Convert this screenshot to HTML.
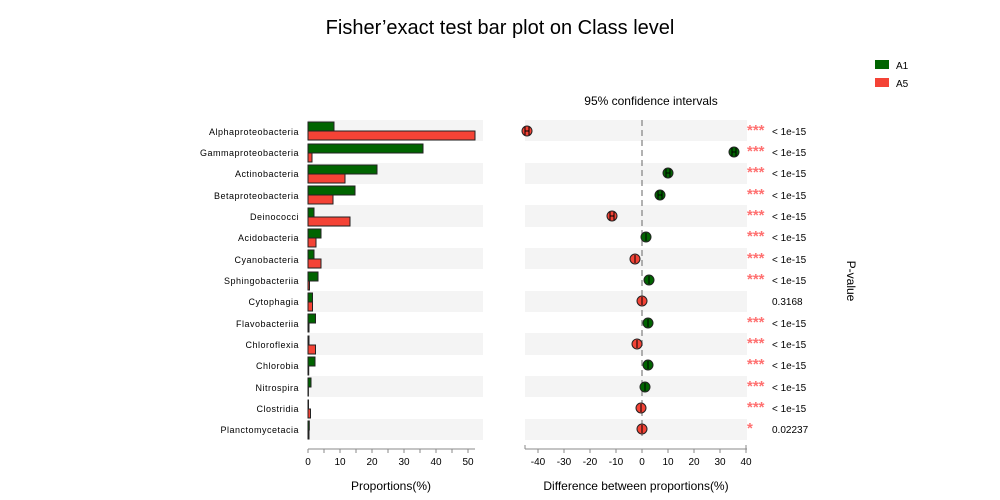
<!DOCTYPE html>
<html><head><meta charset="utf-8"><style>body{margin:0;background:#fff}svg{display:block;font-family:"Liberation Sans",sans-serif}</style></head><body>
<svg width="1000" height="500" viewBox="0 0 1000 500">
<text x="500" y="34" font-size="20" text-anchor="middle">Fisher’exact test bar plot on Class level</text>
<rect x="875" y="60" width="14" height="9" fill="#006400"/><text x="896" y="69" font-size="10">A1</text>
<rect x="875" y="78" width="14" height="9" fill="#f44336"/><text x="896" y="87" font-size="10">A5</text>
<text x="651" y="105" font-size="12" text-anchor="middle">95% confidence intervals</text>
<g fill="#f4f4f4">
<rect x="308" y="120" width="175" height="21"/><rect x="308" y="163" width="175" height="21"/><rect x="308" y="205" width="175" height="22"/><rect x="308" y="248" width="175" height="21"/><rect x="308" y="291" width="175" height="21"/><rect x="308" y="333" width="175" height="22"/><rect x="308" y="376" width="175" height="21"/><rect x="308" y="419" width="175" height="21"/>
<rect x="525" y="120" width="222" height="21"/><rect x="525" y="163" width="222" height="21"/><rect x="525" y="205" width="222" height="22"/><rect x="525" y="248" width="222" height="21"/><rect x="525" y="291" width="222" height="21"/><rect x="525" y="333" width="222" height="22"/><rect x="525" y="376" width="222" height="21"/><rect x="525" y="419" width="222" height="21"/>
</g>
<g font-size="9" text-anchor="end" letter-spacing="0.5">
<text x="299" y="135">Alphaproteobacteria</text><text x="299" y="156">Gammaproteobacteria</text><text x="299" y="177">Actinobacteria</text><text x="299" y="199">Betaproteobacteria</text><text x="299" y="220">Deinococci</text><text x="299" y="241">Acidobacteria</text><text x="299" y="263">Cyanobacteria</text><text x="299" y="284">Sphingobacteriia</text><text x="299" y="305">Cytophagia</text><text x="299" y="327">Flavobacteriia</text><text x="299" y="348">Chloroflexia</text><text x="299" y="369">Chlorobia</text><text x="299" y="391">Nitrospira</text><text x="299" y="412">Clostridia</text><text x="299" y="433">Planctomycetacia</text>
</g>
<g stroke="#222" stroke-width="1">
<g fill="#006400">
<rect x="308" y="122" width="26" height="9"/><rect x="308" y="144" width="115" height="9"/><rect x="308" y="165" width="69" height="9"/><rect x="308" y="186" width="47" height="9"/><rect x="308" y="208" width="6" height="9"/><rect x="308" y="229" width="13" height="9"/><rect x="308" y="250" width="6" height="9"/><rect x="308" y="272" width="10" height="9"/><rect x="308" y="293" width="4.5" height="9"/><rect x="308" y="314" width="7.5" height="9"/><rect x="308" y="336" width="1" height="9"/><rect x="308" y="357" width="7" height="9"/><rect x="308" y="378" width="3" height="9"/><rect x="308" y="400" width="0.5" height="9"/><rect x="308" y="421" width="1.3" height="9"/>
</g>
<g fill="#f44336">
<rect x="308" y="131" width="167" height="9"/><rect x="308" y="153" width="4" height="9"/><rect x="308" y="174" width="37" height="9"/><rect x="308" y="195" width="25" height="9"/><rect x="308" y="217" width="42" height="9"/><rect x="308" y="238" width="8" height="9"/><rect x="308" y="259" width="13" height="9"/><rect x="308" y="281" width="1.5" height="9"/><rect x="308" y="302" width="4.5" height="9"/><rect x="308" y="323" width="1" height="9"/><rect x="308" y="345" width="7.5" height="9"/><rect x="308" y="366" width="0.7" height="9"/><rect x="308" y="387" width="0.4" height="9"/><rect x="308" y="409" width="2.5" height="9"/><rect x="308" y="430" width="1" height="9"/>
</g>
</g>
<g stroke="#888" fill="none">
<path d="M308 449H475M308 449v4M324 449v4M340 449v4M356 449v4M372 449v4M388 449v4M404 449v4M420 449v4M436 449v4M452 449v4M468 449v4"/>
<path d="M525 449H747M538 449v4M564 449v4M590 449v4M616 449v4M642 449v4M668 449v4M694 449v4M720 449v4M746 449v4M525 445v4M746 445v4"/>
<path d="M642 120V440" stroke-dasharray="6,4" stroke="#888" stroke-width="1.3"/>
</g>
<g font-size="10" text-anchor="middle">
<text x="308" y="465">0</text><text x="340" y="465">10</text><text x="372" y="465">20</text><text x="404" y="465">30</text><text x="436" y="465">40</text><text x="468" y="465">50</text>
<text x="538" y="465">-40</text><text x="564" y="465">-30</text><text x="590" y="465">-20</text><text x="616" y="465">-10</text><text x="642" y="465">0</text><text x="668" y="465">10</text><text x="694" y="465">20</text><text x="720" y="465">30</text><text x="746" y="465">40</text>
</g>
<text x="391" y="490" font-size="12" text-anchor="middle">Proportions(%)</text>
<text x="636" y="490" font-size="12" text-anchor="middle">Difference between proportions(%)</text>
<g stroke="#222" stroke-width="1">
<circle cx="527" cy="131" r="5" fill="#f44336"/><circle cx="734" cy="152" r="5" fill="#006400"/><circle cx="668" cy="173" r="5" fill="#006400"/><circle cx="660" cy="195" r="5" fill="#006400"/><circle cx="612" cy="216" r="5" fill="#f44336"/><circle cx="646" cy="237" r="5" fill="#006400"/><circle cx="635" cy="259" r="5" fill="#f44336"/><circle cx="649" cy="280" r="5" fill="#006400"/><circle cx="642" cy="301" r="5" fill="#f44336"/><circle cx="648" cy="323" r="5" fill="#006400"/><circle cx="637" cy="344" r="5" fill="#f44336"/><circle cx="648" cy="365" r="5" fill="#006400"/><circle cx="645" cy="387" r="5" fill="#006400"/><circle cx="641" cy="408" r="5" fill="#f44336"/><circle cx="642" cy="429" r="5" fill="#f44336"/>
</g>
<g stroke="#000" stroke-width="1" fill="none">
<path d="M525 127v8M529 127v8M525 131h4"/><path d="M732 148v8M736 148v8M732 152h4"/><path d="M666 169v8M670 169v8M666 173h4"/><path d="M658 191v8M662 191v8M658 195h4"/><path d="M610 212v8M614 212v8M610 216h4"/>
<path d="M646 233v8"/><path d="M635 255v8"/><path d="M649 276v8"/><path d="M642 297v8"/><path d="M648 319v8"/><path d="M637 340v8"/><path d="M648 361v8"/><path d="M645 383v8"/><path d="M641 404v8"/><path d="M642 425v8"/>
</g>
<g font-size="15" font-weight="bold" fill="#ff7070">
<text x="747" y="135">***</text><text x="747" y="156">***</text><text x="747" y="177">***</text><text x="747" y="199">***</text><text x="747" y="220">***</text><text x="747" y="241">***</text><text x="747" y="263">***</text><text x="747" y="284">***</text><text x="747" y="327">***</text><text x="747" y="348">***</text><text x="747" y="369">***</text><text x="747" y="391">***</text><text x="747" y="412">***</text><text x="747" y="433">*</text>
</g>
<g font-size="10">
<text x="772" y="135">&lt; 1e-15</text><text x="772" y="156">&lt; 1e-15</text><text x="772" y="177">&lt; 1e-15</text><text x="772" y="199">&lt; 1e-15</text><text x="772" y="220">&lt; 1e-15</text><text x="772" y="241">&lt; 1e-15</text><text x="772" y="263">&lt; 1e-15</text><text x="772" y="284">&lt; 1e-15</text><text x="772" y="305">0.3168</text><text x="772" y="327">&lt; 1e-15</text><text x="772" y="348">&lt; 1e-15</text><text x="772" y="369">&lt; 1e-15</text><text x="772" y="391">&lt; 1e-15</text><text x="772" y="412">&lt; 1e-15</text><text x="772" y="433">0.02237</text>
</g>
<text x="847" y="281" font-size="12" text-anchor="middle" transform="rotate(90 847 281)">P-value</text>
</svg>
</body></html>
